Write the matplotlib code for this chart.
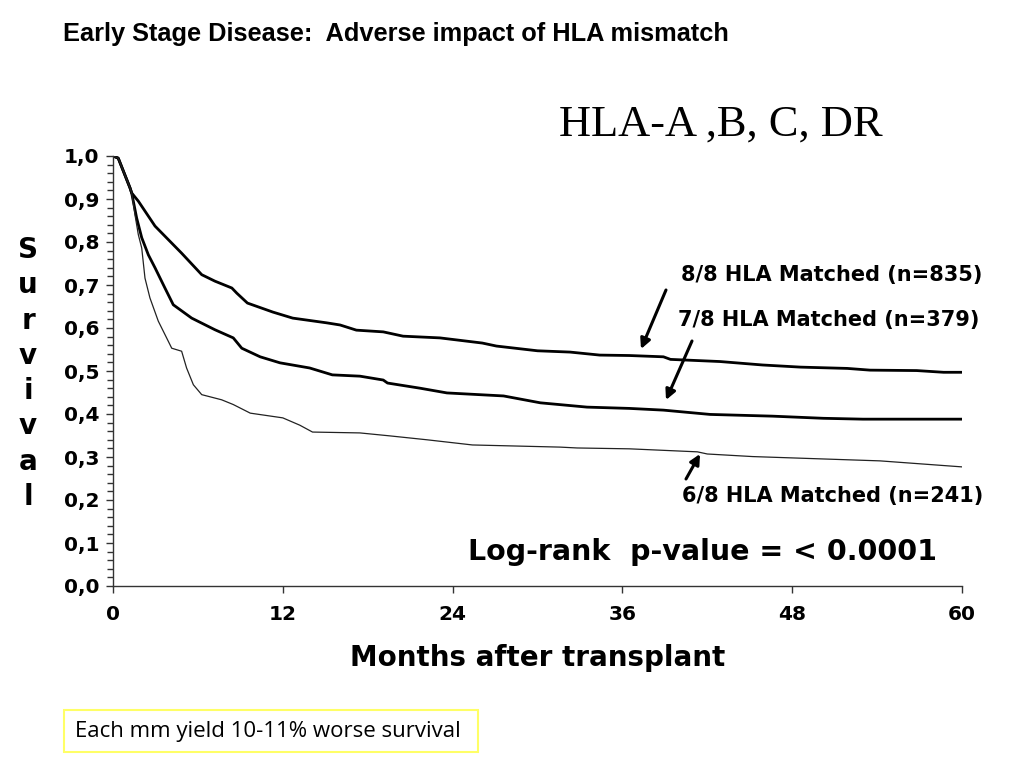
import matplotlib
matplotlib.use("Agg")
import matplotlib.pyplot as plt
from matplotlib.ticker import MultipleLocator, FixedLocator, FuncFormatter
from matplotlib.patches import Rectangle, FancyArrowPatch

# ---- data ----
t_88 = [0, 0.37, 1.2, 1.32, 1.79, 2.97, 4.85, 6.27, 7.2, 8.4, 8.75, 9.5, 11.3, 12.7,
        15.1, 16.05, 17.2, 19.1, 20.5, 23.1, 26.1, 27.1, 30.0, 32.3, 34.4, 36.5, 38.9,
        39.4, 42.9, 45.9, 48.6, 51.9, 53.5, 56.8, 58.7, 60]
s_88 = [1.0, 0.995, 0.926, 0.914, 0.895, 0.837, 0.774, 0.724, 0.709, 0.693, 0.681, 0.658,
        0.637, 0.623, 0.612, 0.607, 0.595, 0.591, 0.581, 0.577, 0.565, 0.558, 0.547,
        0.544, 0.537, 0.536, 0.533, 0.527, 0.522, 0.514, 0.509, 0.506, 0.502, 0.501,
        0.497, 0.497]

t_78 = [0, 0.37, 1.2, 1.32, 1.67, 2.03, 2.5, 2.97, 3.67, 4.26, 5.56, 7.2, 8.5, 9.1,
        10.4, 11.8, 13.9, 15.5, 17.45, 19.1, 19.4, 21.7, 23.6, 27.6, 30.2, 33.5, 36.5,
        38.9, 42.2, 46.6, 50.2, 53.0, 60]
s_78 = [1.0, 0.995, 0.926, 0.914, 0.856, 0.81, 0.77, 0.74, 0.693, 0.654, 0.623, 0.596,
        0.577, 0.553, 0.533, 0.519, 0.507, 0.491, 0.488, 0.479, 0.472, 0.46, 0.449,
        0.442, 0.426, 0.416, 0.413, 0.409, 0.399, 0.395, 0.39, 0.388, 0.388]

t_68 = [0, 0.37, 1.2, 1.32, 1.55, 1.79, 2.03, 2.26, 2.61, 3.2, 3.91, 4.15, 4.85, 5.2,
        5.68, 6.27, 7.68, 8.5, 9.7, 12.0, 13.2, 14.1, 17.45, 19.6, 22.2, 25.4, 31.6,
        32.8, 36.5, 41.3, 42.0, 45.2, 54.2, 60]
s_68 = [1.0, 0.995, 0.926, 0.914, 0.864, 0.817, 0.786, 0.716, 0.67, 0.616, 0.569, 0.553,
        0.546, 0.507, 0.468, 0.445, 0.433, 0.422, 0.402, 0.391, 0.374, 0.358, 0.356,
        0.349, 0.34, 0.328, 0.323, 0.321, 0.319, 0.312, 0.307, 0.301, 0.291, 0.277]

x_ticks = [0, 12, 24, 36, 48, 60]
y_ticks = [0.0, 0.1, 0.2, 0.3, 0.4, 0.5, 0.6, 0.7, 0.8, 0.9, 1.0]

label_88 = "8/8 HLA Matched (n=835)"
label_78 = "7/8 HLA Matched (n=379)"
label_68 = "6/8 HLA Matched (n=241)"

W, H = 1024, 768
fig = plt.figure(figsize=(W / 100, H / 100), dpi=100)
fig.patch.set_facecolor("white")

x0, x1, y0, y1 = 113, 962, 156, 586
ax = fig.add_axes([x0 / W, 1 - y1 / H, (x1 - x0) / W, (y1 - y0) / H])
ax.set_xlim(0, 60)
ax.set_ylim(0, 1.0)

ax.plot(t_88, s_88, color="black", lw=2.0, solid_joinstyle="round")
ax.plot(t_78, s_78, color="black", lw=2.0, solid_joinstyle="round")
ax.plot(t_68, s_68, color="#222222", lw=0.9)

for sp in ["top", "right"]:
    ax.spines[sp].set_visible(False)
for sp in ["left", "bottom"]:
    ax.spines[sp].set_linewidth(1.0)
    ax.spines[sp].set_color("#333333")

ax.xaxis.set_major_locator(FixedLocator(x_ticks))
ax.yaxis.set_major_locator(FixedLocator(y_ticks))
ax.yaxis.set_minor_locator(MultipleLocator(0.02))
ax.yaxis.set_major_formatter(FuncFormatter(lambda v, p: f"{v:.1f}".replace(".", ",")))
ax.tick_params(axis="both", which="major", direction="out", length=5, width=1,
               colors="#333333", labelcolor="black")
ax.tick_params(axis="y", which="minor", direction="out", length=4, width=1, colors="#333333")
ax.tick_params(axis="y", pad=5)
ax.tick_params(axis="x", pad=9)
for lab in ax.get_xticklabels() + ax.get_yticklabels():
    lab.set_fontfamily("DejaVu Sans")
    lab.set_fontweight("bold")
    lab.set_fontsize(14.5)

ax.set_xlabel("Months after transplant", fontsize=20, fontweight="bold",
              family="DejaVu Sans", labelpad=14)

# Vertical "Survival"
for i, ch in enumerate("Survival"):
    fig.text(28 / W, 1 - (250 + i * 35.3) / H, ch, fontsize=20, fontweight="bold",
             family="DejaVu Sans", ha="center", va="center")

# Titles
fig.text(63 / W, 1 - 34 / H, "Early Stage Disease:  Adverse impact of HLA mismatch",
         fontsize=18.3, fontweight="bold", family="Liberation Sans", ha="left", va="center")
fig.text(721 / W, 1 - 125 / H, "HLA-A ,B, C, DR", fontsize=32, family="Liberation Serif",
         ha="center", va="center")

# Curve labels
fig.text(982 / W, 1 - 275 / H, label_88, fontsize=15, fontweight="bold",
         family="DejaVu Sans", ha="right", va="center")
fig.text(979 / W, 1 - 320 / H, label_78, fontsize=15, fontweight="bold",
         family="DejaVu Sans", ha="right", va="center")
fig.text(983 / W, 1 - 496 / H, label_68, fontsize=15, fontweight="bold",
         family="DejaVu Sans", ha="right", va="center")

# Arrows (figure pixel coordinates)
def arrow(xs, ys, xe, ye):
    fig.add_artist(FancyArrowPatch(
        (xs / W, 1 - ys / H), (xe / W, 1 - ye / H), transform=fig.transFigure,
        arrowstyle="-|>,head_length=6,head_width=3", lw=2.2, color="black",
        shrinkA=0, shrinkB=0))

arrow(666, 290, 641, 349)
arrow(692, 341, 666, 400)
arrow(686, 479, 700, 454)

# p-value text
fig.text(702 / W, 1 - 552 / H, "Log-rank  p-value = < 0.0001", fontsize=20.5,
         fontweight="bold", family="DejaVu Sans", ha="center", va="center")

# Bottom boxed note
fig.add_artist(Rectangle((64 / W, 1 - 752 / H), (478 - 64) / W, 42 / H,
                         transform=fig.transFigure, facecolor="white",
                         edgecolor="#ffff66", lw=1.5))
fig.text(268 / W, 1 - 731 / H, "Each mm yield 10-11% worse survival", fontsize=16,
         family="Open Sans", ha="center", va="center")

fig.savefig("out.png", dpi=100)
